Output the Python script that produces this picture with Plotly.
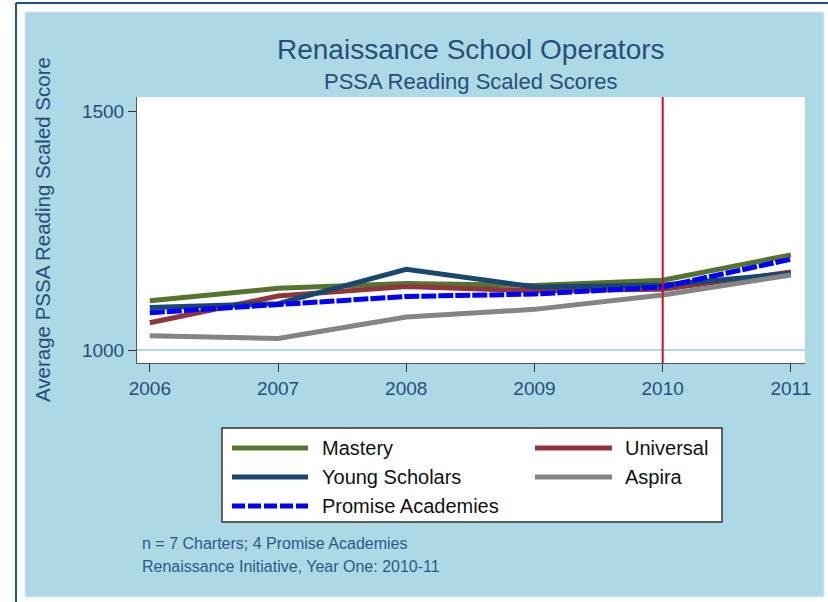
import plotly.graph_objects as go

# data
years = [2006, 2007, 2008, 2009, 2010, 2011]
mastery = [1103, 1129, 1139, 1135, 1146, 1199]
universal = [1057, 1113, 1133, 1124, 1127, 1163]
young_scholars = [1089, 1097, 1169, 1132, 1136, 1160]
aspira = [1030, 1024, 1069, 1085, 1115, 1157]
promise = [1078, 1094, 1112, 1117, 1132, 1190]
policy_year = 2010
reference_score = 1000
y_ticks = [1000, 1500]

series = [
    ("Mastery", mastery, "#55752f", "solid"),
    ("Universal", universal, "#8f363c", "solid"),
    ("Young Scholars", young_scholars, "#1a476f", "solid"),
    ("Aspira", aspira, "#848484", "solid"),
    ("Promise Academies", promise, "#0000ff", "15px,2px"),
]

W, H = 828, 602
L, R, T, B = 137, 805, 97, 363  # plot area in pixels


def px_x(p):
    return (p - L) / (R - L)


def px_y(p):
    return (B - p) / (B - T)


PANEL = "#add8e6"
TXT = "#264f78"
FONT = "Liberation Sans, Arial, sans-serif"

fig = go.Figure()
for name, vals, color, dash in series:
    fig.add_trace(go.Scatter(x=years, y=vals, mode="lines", name=name,
                             line=dict(color=color, width=5, dash=dash),
                             showlegend=False))

shapes = [
    # light blue panel and white plot region
    dict(type="rect", xref="paper", yref="paper", layer="below",
         x0=px_x(25), x1=px_x(824), y0=px_y(597), y1=px_y(12),
         fillcolor=PANEL, line=dict(color="#dfe8ec", width=1)),
    dict(type="rect", xref="paper", yref="paper", layer="below",
         x0=0, x1=1, y0=0, y1=1, fillcolor="white", line=dict(width=0)),
    # outer frame
    dict(type="line", xref="paper", yref="paper", x0=px_x(16), x1=px_x(830),
         y0=px_y(3), y1=px_y(3), line=dict(color="#1f4f8f", width=2)),
    dict(type="line", xref="paper", yref="paper", x0=px_x(16), x1=px_x(16),
         y0=px_y(3), y1=px_y(605), line=dict(color="#1f4f8f", width=2)),
    # reference lines
    dict(type="line", xref="paper", yref="y", x0=0, x1=1, layer="below",
         y0=reference_score, y1=reference_score, line=dict(color=PANEL, width=2)),
    dict(type="line", xref="x", yref="paper", x0=policy_year, x1=policy_year,
         y0=0, y1=1, line=dict(color="#c8102e", width=2)),
    # legend box
    dict(type="rect", xref="paper", yref="paper",
         x0=px_x(222), x1=px_x(722), y0=px_y(522), y1=px_y(428),
         fillcolor="white", line=dict(color="#333333", width=1.5)),
]

annotations = [
    dict(text="Renaissance School Operators", x=0.5, y=px_y(50), xref="paper",
         yref="paper", showarrow=False, xanchor="center", yanchor="middle",
         font=dict(size=28, color=TXT, family=FONT)),
    dict(text="PSSA Reading Scaled Scores", x=0.5, y=px_y(81), xref="paper",
         yref="paper", showarrow=False, xanchor="center", yanchor="middle",
         font=dict(size=22, color=TXT, family=FONT)),
    dict(text="Average PSSA Reading Scaled Score", x=px_x(42), y=0.5,
         xref="paper", yref="paper", showarrow=False, textangle=-90,
         xanchor="center", yanchor="middle",
         font=dict(size=20.5, color=TXT, family=FONT)),
    dict(text="n = 7 Charters; 4 Promise Academies", x=px_x(140), y=px_y(543),
         xref="paper", yref="paper", showarrow=False, xanchor="left",
         yanchor="middle", font=dict(size=16, color="#2b5a85", family=FONT)),
    dict(text="Renaissance Initiative, Year One: 2010-11", x=px_x(140),
         y=px_y(566), xref="paper", yref="paper", showarrow=False,
         xanchor="left", yanchor="middle",
         font=dict(size=16, color="#2b5a85", family=FONT)),
]

# hand-built legend, two columns like the original
legend_rows = [448, 477, 506]
legend_cols = [(232, 308, 320), (535, 612, 623)]
for i, (name, vals, color, dash) in enumerate(series):
    row, col = divmod(i, 2)
    x0, x1, xt = legend_cols[col]
    yy = px_y(legend_rows[row])
    shapes.append(dict(type="line", xref="paper", yref="paper",
                       x0=px_x(x0), x1=px_x(x1), y0=yy, y1=yy,
                       line=dict(color=color, width=5,
                                 dash="13px,3px" if dash != "solid" else "solid")))
    annotations.append(dict(text=name, x=px_x(xt), y=yy, xref="paper",
                            yref="paper", showarrow=False, xanchor="left",
                            yanchor="middle",
                            font=dict(size=20, color="#111111", family=FONT)))

fig.update_layout(
    width=W, height=H,
    margin=dict(l=L, r=W - R, t=T, b=H - B),
    paper_bgcolor="white",
    plot_bgcolor="white",
    shapes=shapes,
    annotations=annotations,
    xaxis=dict(range=[2005.9, 2011.11], tickvals=years, showgrid=False,
               zeroline=False, showline=True, linecolor="#555555", linewidth=1,
               ticks="outside", ticklen=8, tickcolor="#333333",
               tickfont=dict(size=19, color=TXT, family=FONT)),
    yaxis=dict(range=[972.8, 1529.3], tickvals=y_ticks, showgrid=False,
               zeroline=False, showline=True, linecolor="#555555", linewidth=1,
               ticks="outside", ticklen=8, tickcolor="#333333",
               tickfont=dict(size=19, color=TXT, family=FONT)),
)

# the page body has an 8px default margin; drop it so the figure fills the window
fig.write_html("out.html", config={"displayModeBar": False},
               post_script="document.body.style.margin = '0';")
